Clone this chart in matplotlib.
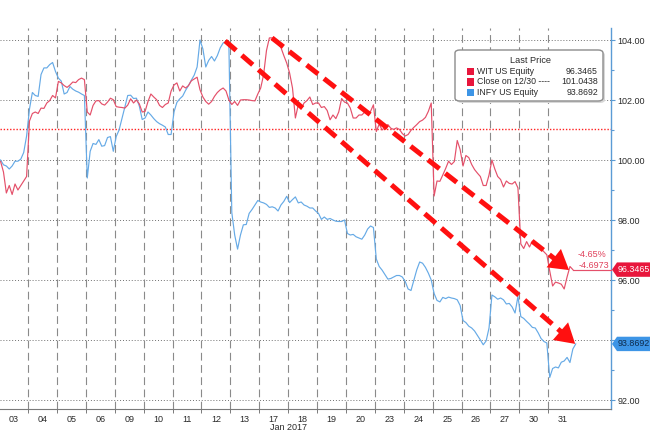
import numpy as np
import matplotlib
matplotlib.use("Agg")
import matplotlib.pyplot as plt
from matplotlib.patches import Polygon, FancyBboxPatch, Rectangle
from matplotlib.transforms import blended_transform_factory

plt.rcParams['font.family'] = ['Liberation Sans', 'DejaVu Sans']

# ---------------- data ----------------
day_labels = ["03", "04", "05", "06", "09", "10", "11", "12", "13", "17",
              "18", "19", "20", "23", "24", "25", "26", "27", "30", "31"]
month_label = "Jan 2017"

# intraday samples (10 per session) WIT US Equity
wit_intraday = [
    [99.95, 99.6, 98.9, 99.15, 98.85, 99.2, 99.0, 99.15, 99.3, 99.45],
    [101.3, 101.55, 101.6, 101.55, 101.73, 101.72, 101.9, 101.98, 102.15, 102.07],
    [102.62, 102.57, 102.48, 102.42, 102.5, 102.6, 102.58, 102.68, 102.73, 102.68],
    [101.6, 101.5, 101.82, 101.97, 101.98, 101.87, 101.83, 101.93, 102.06, 102.01],
    [101.78, 101.76, 101.75, 101.73, 101.83, 102.04, 101.9, 102.0, 101.87, 101.6],
    [101.62, 101.95, 102.2, 102.1, 102.01, 101.82, 101.75, 101.85, 101.9, 102.3],
    [102.5, 102.57, 102.3, 102.47, 102.4, 102.48, 102.64, 102.7, 102.76, 102.34],
    [102.1, 101.95, 101.86, 101.95, 102.12, 102.25, 102.34, 102.4, 102.3, 102.0],
    [101.85, 101.95, 101.82, 102.0, 102.01, 102.01, 102.0, 101.98, 101.97, 102.2],
    [102.4, 102.84, 103.65, 104.07, 104.07, 104.0, 103.85, 103.75, 103.48, 103.23],
    [102.9, 102.4, 101.4, 101.84, 101.7, 101.9, 101.98, 102.1, 101.85, 101.9],
    [101.9, 101.75, 101.78, 101.65, 101.34, 101.5, 101.38, 101.6, 102.05, 101.93],
    [101.9, 101.73, 101.4, 101.4, 101.5, 101.5, 101.6, 101.57, 101.62, 101.84],
    [100.95, 101.2, 101.0, 101.1, 101.18, 101.06, 101.02, 101.07, 101.02, 100.88],
    [100.8, 100.85, 100.99, 101.09, 101.18, 101.28, 101.33, 101.42, 101.62, 101.9],
    [98.8, 99.3, 99.29, 99.5, 99.72, 99.96, 99.85, 99.95, 100.65, 100.35],
    [99.8, 100.15, 100.08, 99.85, 99.68, 99.56, 99.45, 99.15, 99.15, 99.5],
    [100.0, 99.7, 99.45, 99.35, 99.1, 99.3, 99.22, 99.2, 99.28, 99.07],
    [97.2, 97.05, 97.28, 97.1, 97.3, 97.25, 97.1, 97.05, 96.94, 96.84],
    [96.3, 95.8, 95.93, 95.9, 95.86, 95.7, 96.1, 96.45, 96.3465],
]

# intraday samples (10 per session) INFY US Equity
infy_intraday = [
    [100.0, 99.84, 99.8, 99.7, 99.8, 99.96, 99.96, 100.03, 100.25, 100.8],
    [101.7, 102.25, 102.15, 102.12, 102.85, 103.07, 103.07, 103.18, 103.25, 102.95],
    [102.73, 102.63, 102.2, 102.25, 102.45, 102.36, 102.3, 102.26, 102.2, 102.15],
    [99.4, 100.29, 100.55, 100.52, 100.68, 100.46, 100.48, 100.75, 100.78, 100.29],
    [100.78, 101.0, 101.38, 101.75, 102.15, 102.16, 102.05, 102.06, 101.8, 101.35],
    [101.4, 101.6, 101.5, 101.38, 101.28, 101.21, 101.16, 101.1, 100.85, 100.85],
    [101.6, 101.92, 102.04, 102.13, 102.32, 102.48, 102.66, 102.83, 103.1, 104.0],
    [103.7, 103.1, 103.32, 103.45, 103.3, 103.48, 103.74, 103.9, 103.95, 103.8],
    [98.25, 97.5, 97.03, 97.5, 97.84, 97.85, 98.22, 98.35, 98.5, 98.65],
    [98.6, 98.57, 98.52, 98.42, 98.44, 98.4, 98.3, 98.5, 98.62, 98.79],
    [98.58, 98.68, 98.77, 98.57, 98.6, 98.5, 98.46, 98.4, 98.4, 98.3],
    [98.22, 98.02, 98.1, 98.02, 98.05, 98.0, 97.96, 97.95, 97.95, 98.0],
    [97.55, 97.5, 97.52, 97.44, 97.4, 97.36, 97.5, 97.7, 97.8, 97.75],
    [96.7, 96.45, 96.33, 96.18, 96.03, 96.05, 96.1, 96.15, 96.15, 96.1],
    [95.95, 95.7, 95.65, 96.0, 96.34, 96.6, 96.56, 96.42, 96.23, 96.0],
    [95.55, 95.32, 95.27, 95.42, 95.38, 95.43, 95.4, 95.38, 95.34, 95.15],
    [94.65, 94.58, 94.46, 94.4, 94.3, 94.15, 94.0, 93.84, 93.97, 94.4],
    [95.5, 95.44, 95.36, 95.4, 95.34, 95.2, 95.22, 95.1, 94.9, 95.45],
    [94.78, 94.72, 94.62, 94.53, 94.42, 94.4, 94.24, 94.05, 93.95, 93.9],
    [92.75, 93.05, 93.1, 93.07, 93.26, 93.3, 93.42, 93.25, 93.7, 93.8692],
]

wit_last = 96.3465
infy_last = 93.8692
prev_close = 101.0438
wit_change_pct = "-4.65%"
wit_change_abs = "-4.6973"
legend_rows = [("WIT US Equity", "96.3465"),
               ("Close on 12/30 ----", "101.0438"),
               ("INFY US Equity", "93.8692")]

# trend arrows drawn on the chart: (start session-time, start price, end session-time, end price)
trend_arrows = [(9.44, 104.07, 19.72, 96.33),
                (7.82, 103.97, 19.93, 93.87)]

SAMPLES_PER_DAY = 10


def to_series(intraday):
    t, v = [], []
    for i, day in enumerate(intraday):
        for j, val in enumerate(day):
            t.append(i + (j + 0.5) / SAMPLES_PER_DAY)
            v.append(val)
    return np.array(t), np.array(v)


wit_t, wit_v = to_series(wit_intraday)
infy_t, infy_v = to_series(infy_intraday)

# ---------------- styling ----------------
RED_LINE = '#e4506a'
BLUE_LINE = '#66aae6'
ARROW_RED = '#ff1010'
AXIS_BLUE = '#5b9bd5'
TXT = '#2a2a2a'

fig = plt.figure(figsize=(6.5, 4.33), dpi=100)
fig.patch.set_facecolor('white')
ax = fig.add_axes([0.0, 1 - 409 / 433, 611 / 650, 381 / 433])
ax.set_facecolor('white')

ax.set_xlim(0.03, 21.17)
ax.set_ylim(91.7, 104.4)

# horizontal dotted grid
for yv in np.arange(92, 105, 2):
    ax.axhline(yv, color='#707070', lw=0.7, linestyle=(0, (1, 2)), zorder=1)
# vertical dashed session separators
for k in range(1, len(day_labels)):
    ax.axvline(k, color='#8a8a8a', lw=0.8, linestyle=(0, (7, 4)), zorder=1)

# previous close reference
ax.axhline(prev_close, color='#ff2020', lw=1.0, linestyle=(0, (1, 1.3)), zorder=2)

# series
ax.plot(infy_t, infy_v, color=BLUE_LINE, lw=0.85, zorder=3)
ax.plot(wit_t, wit_v, color=RED_LINE, lw=0.85, zorder=3)
# last price connector for WIT
ax.plot([wit_t[-1], ax.get_xlim()[1]], [wit_last, wit_last], color=RED_LINE, lw=0.85, zorder=3, clip_on=False)

# trend arrows
for (x0, y0, x1, y1) in trend_arrows:
    fr = 0.96
    xe = x0 + (x1 - x0) * fr
    ye = y0 + (y1 - y0) * fr
    ax.plot([x0, xe], [y0, ye], color=ARROW_RED, lw=3.6, linestyle=(0, (2.9, 1.5)),
            solid_capstyle='butt', dash_capstyle='butt', zorder=5)
    ax.annotate('', xy=(x1, y1), xytext=(xe - (x1 - x0) * 0.02, ye - (y1 - y0) * 0.02),
                arrowprops=dict(arrowstyle='-|>,head_length=0.7,head_width=0.42',
                                color=ARROW_RED, lw=0, mutation_scale=20,
                                shrinkA=0, shrinkB=0), zorder=6)

# change annotations
ax.annotate(wit_change_abs, xy=(1.0, wit_last), xycoords=('axes fraction', 'data'),
            xytext=(-1, 3), textcoords='offset points', ha='right', va='center',
            color='#e0405a', fontsize=6.5)
ax.annotate(wit_change_pct, xy=(1.0, wit_last), xycoords=('axes fraction', 'data'),
            xytext=(-3, 11), textcoords='offset points', ha='right', va='center',
            color='#e0405a', fontsize=6.5)

# axes
for s in ['left', 'top']:
    ax.spines[s].set_visible(False)
ax.spines['right'].set_color(AXIS_BLUE)
ax.spines['right'].set_linewidth(1.0)
ax.spines['bottom'].set_color('#7a7a7a')
ax.spines['bottom'].set_linewidth(0.8)

ax.yaxis.tick_right()
ax.set_yticks(np.arange(92, 105, 2))
ax.set_yticklabels([f"{v:.2f}" for v in np.arange(92, 105, 2)])
ax.set_yticks(np.arange(93, 104, 2), minor=True)
ax.tick_params(axis='y', which='major', length=3, width=0.8, color=AXIS_BLUE,
               labelsize=6.5, labelcolor=TXT, pad=1.5)
ax.tick_params(axis='y', which='minor', length=2.5, width=0.8, color=AXIS_BLUE)

ax.set_xticks(np.arange(len(day_labels)) + 0.5)
ax.set_xticklabels(day_labels)
ax.set_xticks(np.arange(1, len(day_labels)), minor=True)
ax.tick_params(axis='x', which='major', length=0, labelsize=6.5, labelcolor=TXT, pad=4)
ax.tick_params(axis='x', which='minor', length=3, width=0.7, color='#7a7a7a')
ax.text(len(day_labels) / 2, -18 / 381.0, month_label,
        transform=blended_transform_factory(ax.transData, ax.transAxes),
        ha='center', va='center', fontsize=6.5, color=TXT)

# price tags on right axis
bt = blended_transform_factory(ax.transAxes, ax.transData)
px = 1 / 611.0
hh = 0.24
for val, face, tcol in [(wit_last, '#e8163c', 'white'), (infy_last, '#3d95e6', '#0d2a4a')]:
    poly = Polygon([(1.0 + 1 * px, val), (1.0 + 6 * px, val + hh), (1.0 + 40 * px, val + hh),
                    (1.0 + 40 * px, val - hh), (1.0 + 6 * px, val - hh)], closed=True,
                   transform=bt, facecolor=face, edgecolor='none', clip_on=False, zorder=7)
    ax.add_patch(poly)
    ax.text(1.0 + 22.5 * px, val, f"{val:.4f}", transform=bt, ha='center', va='center',
            fontsize=6.4, color=tcol, clip_on=False, zorder=8)

# legend box
ay = lambda ypx: (409 - ypx) / 381.0
axx = lambda xpx: xpx / 611.0
shadow = FancyBboxPatch((axx(457), ay(103)), axx(603) - axx(455), ay(50) - ay(101),
                        boxstyle='round,pad=0,rounding_size=0.008', transform=ax.transAxes,
                        facecolor='#d8d8d8', edgecolor='none', zorder=8)
ax.add_patch(shadow)
box = FancyBboxPatch((axx(455), ay(101)), axx(603) - axx(455), ay(50) - ay(101),
                     boxstyle='round,pad=0,rounding_size=0.008', transform=ax.transAxes,
                     facecolor='white', edgecolor='#8c8c8c', lw=1.0, zorder=9)
ax.add_patch(box)
ax.text(axx(530), ay(60.5), "Last Price", transform=ax.transAxes, ha='center', va='center',
        fontsize=6.6, color=TXT, zorder=10)
row_colors = ['#e8163c', '#e8163c', '#3d95e6']
for (name, val), rc, ypx in zip(legend_rows, row_colors, [71.5, 82, 92.5]):
    ax.add_patch(Rectangle((axx(466.5), ay(ypx + 3.5)), 7 * px, 7 / 381.0, transform=ax.transAxes,
                           facecolor=rc, edgecolor='none', zorder=10))
    ax.text(axx(477), ay(ypx), name, transform=ax.transAxes, ha='left', va='center',
            fontsize=6.3, color=TXT, zorder=10)
    ax.text(axx(598), ay(ypx), val, transform=ax.transAxes, ha='right', va='center',
            fontsize=6.3, color=TXT, zorder=10)

fig.savefig('out.png', dpi=100)
